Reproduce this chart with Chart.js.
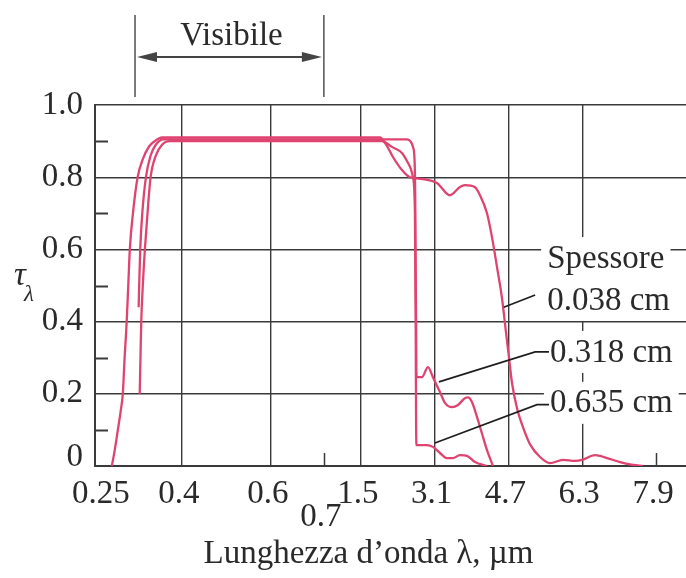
<!DOCTYPE html>
<html>
<head>
<meta charset="utf-8">
<script src="https://cdn.jsdelivr.net/npm/chart.js@4.4.1/dist/chart.umd.min.js"></script>
<style>
  html, body { margin: 0; padding: 0; background: #ffffff; }
  canvas { display: block; }
</style>
</head>
<body>
<canvas id="chart" width="686" height="578"></canvas>
<script>
// Spectral transmissivity of glass sheets of three thicknesses

// Axis ticks
const wavelengthTicks = [0.25, 0.4, 0.6, 0.7, 1.5, 3.1, 4.7, 6.3, 7.9];
const wavelengthTickLabels = ['0.25', '0.4', '0.6', '0.7', '1.5', '3.1', '4.7', '6.3', '7.9'];
const tauTicks = [0, 0.2, 0.4, 0.6, 0.8, 1.0];
const tauMinorTicks = [0.1, 0.3, 0.5, 0.7, 0.9];
const wavelengthShortTicks = [0.7, 7.9];

// Broken wavelength axis: the short-wave part (0.25-0.7 µm) is stretched
const axisBreakLambda = [0.25, 0.4, 0.6, 0.7, 7.9];
const axisBreakPos = [-4.07, -2.38, -0.45, 0.7, 7.9];

// Thickness 0.038 cm
const lambda038 = [0.2654, 0.271, 0.277, 0.2827, 0.2865, 0.290, 0.294, 0.297, 0.300, 0.306, 0.315, 0.325, 0.337, 0.348, 0.362, 0.40, 0.6, 1.0, 1.5, 1.915, 2.05, 2.197, 2.392, 2.566, 2.848, 3.151, 3.433, 3.65, 3.759, 3.976, 4.084, 4.236, 4.344, 4.453, 4.561, 4.648, 4.713, 4.778, 4.887, 5.038, 5.169, 5.386, 5.602, 5.884, 6.145, 6.297, 6.579, 6.839, 7.121, 7.403, 7.62];
const tau038 = [0, 0.044, 0.10, 0.155, 0.20, 0.30, 0.40, 0.50, 0.60, 0.70, 0.80, 0.85, 0.885, 0.90, 0.91, 0.91, 0.91, 0.91, 0.91, 0.91, 0.89, 0.856, 0.82, 0.80, 0.795, 0.784, 0.75, 0.773, 0.778, 0.772, 0.75, 0.70, 0.634, 0.551, 0.465, 0.37, 0.30, 0.23, 0.16, 0.10, 0.06, 0.025, 0.008, 0.017, 0.014, 0.017, 0.03, 0.022, 0.011, 0.003, 0];

// Thickness 0.318 cm
const lambda318 = [0.317, 0.318, 0.320, 0.324, 0.331, 0.340, 0.350, 0.365, 0.385, 0.6, 1.0, 1.5, 2.0, 2.50, 2.59, 2.631, 2.665, 2.68, 2.69, 2.70, 2.705, 2.717, 2.826, 2.956, 3.064, 3.216, 3.325, 3.477, 3.607, 3.759, 3.824, 3.910, 4.019, 4.127, 4.236, 4.366];
const tau318 = [0.44, 0.50, 0.60, 0.70, 0.80, 0.86, 0.89, 0.905, 0.905, 0.905, 0.905, 0.905, 0.905, 0.905, 0.897, 0.884, 0.85, 0.75, 0.55, 0.38, 0.26, 0.246, 0.246, 0.274, 0.246, 0.205, 0.175, 0.163, 0.169, 0.188, 0.19, 0.177, 0.136, 0.09, 0.044, 0];

// Thickness 0.635 cm
const lambda635 = [0.319, 0.3205, 0.322, 0.325, 0.329, 0.334, 0.340, 0.350, 0.362, 0.377, 0.40, 0.6, 1.0, 1.5, 1.958, 2.175, 2.392, 2.522, 2.631, 2.674, 2.69, 2.70, 2.71, 2.934, 3.064, 3.216, 3.368, 3.498, 3.650, 3.802, 3.976, 4.236];
const tau635 = [0.20, 0.30, 0.40, 0.50, 0.60, 0.70, 0.80, 0.86, 0.89, 0.90, 0.90, 0.90, 0.90, 0.90, 0.90, 0.884, 0.867, 0.84, 0.80, 0.70, 0.40, 0.10, 0.058, 0.058, 0.053, 0.036, 0.022, 0.022, 0.03, 0.028, 0.011, 0];

// Thickness labels and their leader lines (wavelength, tau)
const thicknessLabels = ['Spessore', '0.038 cm', '0.318 cm', '0.635 cm'];
const labelLambda = [5.54, 5.54, 5.60, 5.60];
const labelTau = [0.576, 0.46, 0.316, 0.175];
const leaderLambda = [[4.60, 5.28], [3.195, 5.28, 5.58], [3.108, 5.32, 5.58]];
const leaderTau = [[0.44, 0.474], [0.233, 0.316, 0.316], [0.064, 0.17, 0.17]];

// Visible band marker above the plot
const visibleBand = [0.31, 0.7];
const visibleBracketTau = [1.022, 1.249];
const visibleArrowTau = 1.133;
const visibleTextTau = 1.166;

const SERIF = '"Liberation Serif", "DejaVu Serif", "Times New Roman", serif';
const INK = '#2a2a2a';
const GRID = '#3a3a3a';
const CURVE = '#df4470';
const FONT_SIZE = 33;

function toAxis(l) {
  const L = axisBreakLambda, P = axisBreakPos;
  let i = 0;
  while (i < L.length - 2 && l > L[i + 1]) i++;
  return P[i] + (l - L[i]) * (P[i + 1] - P[i]) / (L[i + 1] - L[i]);
}
function fromAxis(u) {
  const L = axisBreakLambda, P = axisBreakPos;
  let i = 0;
  while (i < P.length - 2 && u > P[i + 1]) i++;
  return L[i] + (u - P[i]) * (L[i + 1] - L[i]) / (P[i + 1] - P[i]);
}

class BrokenLinearScale extends Chart.LinearScale {
  getPixelForValue(v) {
    if (v === null || v === undefined || isNaN(v)) return NaN;
    const a = toAxis(this.min), b = toAxis(this.max);
    return this.getPixelForDecimal((toAxis(v) - a) / (b - a));
  }
  getValueForPixel(p) {
    const a = toAxis(this.min), b = toAxis(this.max);
    return fromAxis(a + this.getDecimalForPixel(p) * (b - a));
  }
}
BrokenLinearScale.id = 'brokenLinear';
BrokenLinearScale.defaults = Chart.LinearScale.defaults;
Chart.register(BrokenLinearScale);

function series(label, xs, ys) {
  return {
    label,
    data: xs.map((x, i) => ({ x, y: ys[i] })),
    borderColor: CURVE,
    borderWidth: 2.3,
    pointRadius: 0,
    fill: false,
    cubicInterpolationMode: 'monotone'
  };
}

const decorations = {
  id: 'decorations',
  afterDatasetsDraw(chart) {
    const { ctx, scales: { x, y }, chartArea } = chart;
    ctx.save();

    // minor ticks on the tau axis
    ctx.strokeStyle = GRID;
    ctx.lineWidth = 2;
    tauMinorTicks.forEach(t => {
      const py = Math.round(y.getPixelForValue(t)) + 0.5;
      ctx.beginPath();
      ctx.moveTo(chartArea.left, py);
      ctx.lineTo(chartArea.left + 13, py);
      ctx.stroke();
    });
    // short inner ticks on the wavelength axis
    ctx.lineWidth = 1.5;
    wavelengthShortTicks.forEach(l => {
      const px = Math.round(x.getPixelForValue(l)) + 0.5;
      ctx.beginPath();
      ctx.moveTo(px, chartArea.bottom);
      ctx.lineTo(px, chartArea.bottom - 13);
      ctx.stroke();
    });

    // thickness labels on white boxes
    ctx.font = FONT_SIZE + 'px ' + SERIF;
    ctx.textBaseline = 'middle';
    ctx.textAlign = 'left';
    thicknessLabels.forEach((txt, i) => {
      const px = x.getPixelForValue(labelLambda[i]);
      const py = y.getPixelForValue(labelTau[i]);
      const w = ctx.measureText(txt).width;
      ctx.fillStyle = '#ffffff';
      ctx.fillRect(px - 6, py - 21, w + 12, 42);
      ctx.fillStyle = INK;
      ctx.fillText(txt, px, py + 1);
    });

    // leader lines
    ctx.strokeStyle = '#1e1e1e';
    ctx.lineWidth = 1.6;
    leaderLambda.forEach((xs, i) => {
      ctx.beginPath();
      xs.forEach((l, j) => {
        const px = x.getPixelForValue(l);
        const py = y.getPixelForValue(leaderTau[i][j]);
        if (j === 0) ctx.moveTo(px, py); else ctx.lineTo(px, py);
      });
      ctx.stroke();
    });

    // visible band bracket
    const x1 = x.getPixelForValue(visibleBand[0]);
    const x2 = x.getPixelForValue(visibleBand[1]);
    const yTop = y.getPixelForValue(visibleBracketTau[1]);
    const yBot = y.getPixelForValue(visibleBracketTau[0]);
    const ya = y.getPixelForValue(visibleArrowTau);
    ctx.strokeStyle = '#444';
    ctx.lineWidth = 1.4;
    [x1, x2].forEach(px => {
      ctx.beginPath();
      ctx.moveTo(px, yTop);
      ctx.lineTo(px, yBot);
      ctx.stroke();
    });
    ctx.lineWidth = 2;
    ctx.beginPath();
    ctx.moveTo(x1 + 10, ya);
    ctx.lineTo(x2 - 10, ya);
    ctx.stroke();
    ctx.fillStyle = '#444';
    ctx.beginPath();
    ctx.moveTo(x1 + 2, ya); ctx.lineTo(x1 + 22, ya - 5); ctx.lineTo(x1 + 22, ya + 5); ctx.closePath();
    ctx.fill();
    ctx.beginPath();
    ctx.moveTo(x2 - 2, ya); ctx.lineTo(x2 - 22, ya - 5); ctx.lineTo(x2 - 22, ya + 5); ctx.closePath();
    ctx.fill();
    ctx.fillStyle = INK;
    ctx.textAlign = 'center';
    ctx.textBaseline = 'alphabetic';
    ctx.fillText('Visibile', (x1 + x2) / 2 + 2, y.getPixelForValue(visibleTextTau));

    // axis titles
    ctx.fillText('Lunghezza d\u2019onda \u03bb, \u00b5m', (chartArea.left + chartArea.right) / 2 - 22, chart.height - 15);
    ctx.font = 'italic ' + FONT_SIZE + 'px ' + SERIF;
    ctx.fillText('\u03c4', 20, 285);
    ctx.font = 'italic 23px ' + SERIF;
    ctx.fillText('\u03bb', 29, 301);

    ctx.restore();
  }
};

new Chart(document.getElementById('chart'), {
  type: 'line',
  data: {
    datasets: [
      series('0.038 cm', lambda038, tau038),
      series('0.318 cm', lambda318, tau318),
      series('0.635 cm', lambda635, tau635)
    ]
  },
  options: {
    responsive: false,
    animation: false,
    events: [],
    layout: { padding: { top: 105, right: 0, bottom: 0, left: 0 } },
    plugins: { legend: { display: false }, tooltip: { enabled: false } },
    scales: {
      x: {
        type: 'brokenLinear',
        bounds: 'data',
        min: 0.233,
        max: 8.55,
        afterBuildTicks: s => { s.ticks = wavelengthTicks.map(v => ({ value: v })); },
        afterFit: s => { s.height = 112; s.paddingLeft = 0; s.paddingRight = 0; },
        ticks: {
          autoSkip: false,
          maxRotation: 0,
          minRotation: 0,
          padding: 12,
          color: INK,
          labelOffset: ctx => (ctx.tick && ctx.tick.value === 0.7) ? -8 : -3,
          font: ctx => ({
            family: SERIF,
            size: FONT_SIZE,
            lineHeight: (ctx.tick && ctx.tick.value === 0.7) ? '26px' : 1
          }),
          callback: v => {
            const i = wavelengthTicks.indexOf(v);
            const txt = i >= 0 ? wavelengthTickLabels[i] : '';
            return v === 0.7 ? ['', txt] : txt;
          }
        },
        grid: {
          drawTicks: false,
          lineWidth: 1.4,
          color: ctx => {
            const v = ctx.tick ? ctx.tick.value : null;
            return (v === 0.25 || wavelengthShortTicks.includes(v)) ? 'rgba(0,0,0,0)' : GRID;
          }
        },
        border: { display: true, color: GRID, width: 2 }
      },
      y: {
        type: 'linear',
        min: 0,
        max: 1,
        afterBuildTicks: s => { s.ticks = tauTicks.map(v => ({ value: v })); },
        afterFit: s => { s.width = 95; s.paddingTop = 0; s.paddingBottom = 0; },
        ticks: {
          padding: 12,
          color: INK,
          font: ctx => ({
            family: SERIF,
            size: FONT_SIZE,
            lineHeight: (ctx.tick && ctx.tick.value === 0) ? '18px' : 1
          }),
          callback: v => (v === 0 ? ['0', ''] : v.toFixed(1))
        },
        grid: { drawTicks: false, lineWidth: 1.4, color: GRID },
        border: { display: true, color: GRID, width: 2 }
      }
    }
  },
  plugins: [decorations]
});
</script>
</body>
</html>
